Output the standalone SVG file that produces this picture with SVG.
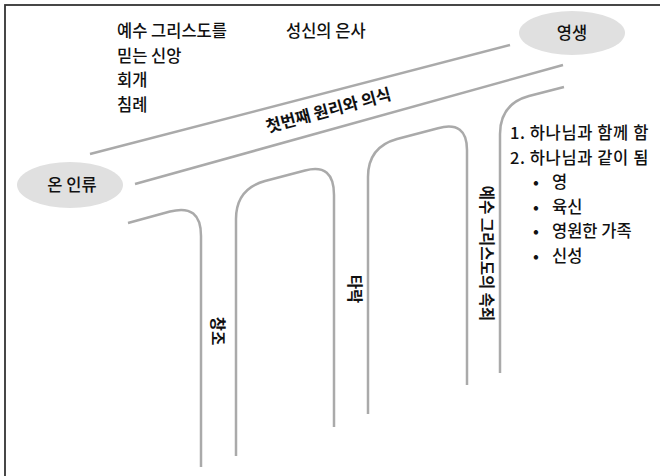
<svg xmlns="http://www.w3.org/2000/svg" width="660" height="476" viewBox="0 0 660 476">
<style>
.t{font-family:"Noto Sans CJK KR","Noto Sans",sans-serif;font-size:16.5px;font-weight:500;fill:#111}
.b{font-weight:bold}
.r{font-size:15.5px}
.road{fill:none;stroke:#aaaaaa;stroke-width:2.5;stroke-linecap:butt}
.oval{fill:#e0e0e0}
</style>
<rect x="5" y="5" width="700" height="520" fill="#fff" stroke="#333" stroke-width="1.8"/>
<g id="connectors">
<path class="road" d="M90,154 L510,45"/>
<path class="road" d="M135,184 L563,65"/>
<path class="road" d="M128,223 L170,211.5 Q201,203.4 201,236 L201,467"/>
<path class="road" d="M236,456 L236,219 Q236,189 265,181 L305,170.5 Q334,162.7 334,195 L334,427"/>
<path class="road" d="M368,414 L368,177 Q368,147 397,139 L438,128.2 Q467,120.4 467,150 L467,385"/>
<path class="road" d="M500,373 L500,134 Q500,104 529,96 L564,87"/>
</g>
<g id="node-all">
<ellipse class="oval" cx="70" cy="185" rx="53" ry="23"/>
<text class="t" x="72" y="191" text-anchor="middle">온 인류</text>
</g>
<g id="node-eternal">
<ellipse class="oval" cx="572" cy="33" rx="53" ry="22"/>
<text class="t" x="572" y="39" text-anchor="middle">영생</text>
</g>
<g id="node-first">
<text class="t" x="117" y="37">예수 그리스도를</text>
<text class="t" x="117" y="61.5">믿는 신앙</text>
<text class="t" x="117" y="86">회개</text>
<text class="t" x="117" y="110.5">침례</text>
<text class="t" x="286" y="37">성신의 은사</text>
</g>
<g id="node-principles">
<text class="t b" x="0" y="0" text-anchor="middle" transform="translate(330,116) rotate(-15)">첫번째 원리와 의식</text>
</g>
<g id="node-creation">
<text class="t b r" x="0" y="0" text-anchor="middle" transform="translate(212,331) rotate(90)">창조</text>
</g>
<g id="node-fall">
<text class="t b r" x="0" y="0" text-anchor="middle" transform="translate(349,289) rotate(90)">타락</text>
</g>
<g id="node-atonement">
<text class="t b r" x="0" y="0" text-anchor="middle" transform="translate(481,253.5) rotate(90)">예수 그리스도의 속죄</text>
</g>
<g id="node-list">
<text class="t" x="510" y="139" letter-spacing="0.6">1. 하나님과 함께 함</text>
<text class="t" x="510" y="163.5" letter-spacing="0.6">2. 하나님과 같이 됨</text>
<text class="t" x="533" y="188">•</text><text class="t" x="552" y="188">영</text>
<text class="t" x="533" y="212.5">•</text><text class="t" x="552" y="212.5">육신</text>
<text class="t" x="533" y="237">•</text><text class="t" x="552" y="237">영원한 가족</text>
<text class="t" x="533" y="261.5">•</text><text class="t" x="552" y="261.5">신성</text>
</g>
</svg>
